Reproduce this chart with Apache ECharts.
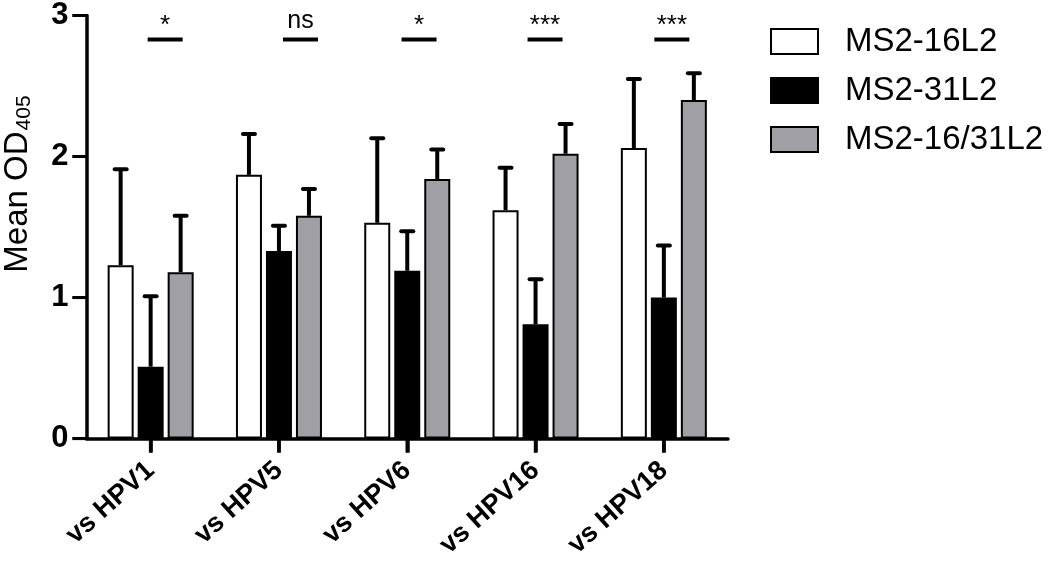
<!DOCTYPE html>
<html><head><meta charset="utf-8">
<script src="https://cdn.jsdelivr.net/npm/echarts@6/dist/echarts.min.js"></script>
<style>html,body{margin:0;padding:0;background:#fff}#c{width:1050px;height:561px}</style>
</head><body><div id="c"></div>
<script>
const categories = ['vs HPV1', 'vs HPV5', 'vs HPV6', 'vs HPV16', 'vs HPV18'];
const seriesNames = ['MS2-16L2', 'MS2-31L2', 'MS2-16/31L2'];
const mean16 = [1.23, 1.87, 1.53, 1.62, 2.06];
const err16 = [0.68, 0.29, 0.60, 0.30, 0.49];
const mean31 = [0.51, 1.33, 1.19, 0.81, 1.00];
const err31 = [0.50, 0.18, 0.28, 0.32, 0.37];
const mean1631 = [1.18, 1.58, 1.84, 2.02, 2.40];
const err1631 = [0.40, 0.19, 0.21, 0.21, 0.19];
const sigLabels = ['*', 'ns', '*', '***', '***'];
const sigLineValue = 2.83;
const yTicks = [0, 1, 2, 3];

const FONT = '"Liberation Sans", Arial, Helvetica, sans-serif';
const colors = ['#ffffff', '#000000', '#a0a0a4'];
const BAR_W = 26, BAR_STEP = 30;
const sigShift = [14.5, 21.5, 11.8, 9.5, 8];
const TICK_LEN = 14;

const chart = echarts.init(document.getElementById('c'), null, {renderer: 'canvas'});

function barSeries(name, data, color) {
  return {
    name: name, type: 'bar', data: data, barWidth: BAR_W, barGap: '15.4%',
    itemStyle: {color: color, borderColor: '#000', borderWidth: 2},
    emphasis: {disabled: true}, animation: false
  };
}
function errSeries(name, means, errs, offset) {
  return {
    name: name, type: 'custom', animation: false, z: 5, clip: false,
    data: means.map((m, i) => [i, m, errs[i]]),
    renderItem: function (params, api) {
      const i = api.value(0), m = api.value(1), e = api.value(2);
      const p0 = api.coord([i, m]);
      const p1 = api.coord([i, m + e]);
      const x = p0[0] + offset;
      return {type: 'group', children: [
        {type: 'line', shape: {x1: x, y1: p0[1], x2: x, y2: p1[1]}, style: {stroke: '#000', lineWidth: 4}},
        {type: 'line', shape: {x1: x - 6, y1: p1[1], x2: x + 6, y2: p1[1]}, style: {stroke: '#000', lineWidth: 4, lineCap: 'round'}}
      ]};
    }
  };
}

const option = {
  backgroundColor: '#fff',
  animation: false,
  grid: {left: 86.5, right: 322, top: 12.5, bottom: 121.5, containLabel: false},
  legend: {
    orient: 'vertical', left: 770, top: 25, padding: 0,
    itemWidth: 47, itemHeight: 25, itemGap: 16, icon: 'rect',
    data: seriesNames,
    textStyle: {fontSize: 33, color: '#000', fontFamily: FONT, padding: [0, 0, 0, 22]}
  },
  xAxis: {
    type: 'category', data: categories,
    axisLine: {show: true, lineStyle: {color: '#000', width: 3.5}},
    axisTick: {show: true, alignWithLabel: true, inside: false, length: TICK_LEN, lineStyle: {color: '#000', width: 3.5, opacity: 1}},
    axisLabel: {rotate: 42, margin: 28, fontSize: 27, lineHeight: 20, fontWeight: 'bold', color: '#000', fontFamily: FONT, interval: 0}
  },
  yAxis: {
    type: 'value', min: 0, max: 3, interval: 1,
    splitLine: {show: false},
    axisLine: {show: true, lineStyle: {color: '#000', width: 3.5}},
    axisTick: {show: true, inside: false, length: TICK_LEN, lineStyle: {color: '#000', width: 3, opacity: 1}},
    axisLabel: {margin: 18, fontSize: 31, lineHeight: 22, fontWeight: 'bold', color: '#000', fontFamily: FONT,
      formatter: v => yTicks.indexOf(v) >= 0 ? String(v) : ''}
  },
  graphic: [{
    type: 'text', x: 18, y: 184, rotation: Math.PI / 2,
    style: {
      text: 'Mean OD{s|405}', fill: '#000', fontSize: 33, fontFamily: FONT,
      align: 'center', verticalAlign: 'middle',
      rich: {s: {fontSize: 21, fontFamily: FONT, fill: '#000', verticalAlign: 'bottom', padding: [0, 0, 0, 1]}}
    }
  }],
  series: [
    barSeries(seriesNames[0], mean16, colors[0]),
    barSeries(seriesNames[1], mean31, colors[1]),
    barSeries(seriesNames[2], mean1631, colors[2]),
    errSeries('err16', mean16, err16, -BAR_STEP),
    errSeries('err31', mean31, err31, 0),
    errSeries('err1631', mean1631, err1631, BAR_STEP),
    {
      name: 'sig', type: 'custom', animation: false, z: 6, clip: false,
      data: sigLabels.map((s, i) => [i, sigLineValue]),
      renderItem: function (params, api) {
        const i = api.value(0);
        const label = sigLabels[i];
        const c = api.coord([i, sigLineValue]);
        const cx = c[0] + sigShift[i];
        const isStar = label.indexOf('*') >= 0;
        return {type: 'group', children: [
          {type: 'line', shape: {x1: cx - 17.5, y1: c[1], x2: cx + 17.5, y2: c[1]}, style: {stroke: '#000', lineWidth: 4}},
          {type: 'text', x: cx, y: isStar ? c[1] - 1 : c[1] - 6,
           style: {text: label, fill: '#000', fontSize: isStar ? 26 : 25, fontFamily: FONT, align: 'center', verticalAlign: 'bottom'}}
        ]};
      }
    },
    {
      name: 'xticks', type: 'custom', animation: false, z: 7, silent: true, clip: false,
      data: categories.map((c, i) => [i, 0]),
      renderItem: function (params, api) {
        const p = api.coord([api.value(0), 0]);
        return {type: 'rect', shape: {x: p[0] - 1.75, y: p[1], width: 3.5, height: TICK_LEN}, style: {fill: '#000'}};
      }
    },
    {
      name: 'yticks', type: 'custom', animation: false, z: 7, silent: true, clip: false,
      data: yTicks.map(v => [0, v]),
      renderItem: function (params, api) {
        const p = api.coord([0, api.value(1)]);
        const left = p[0] - api.size([1, 0])[0] / 2;
        return {type: 'rect', shape: {x: left - TICK_LEN, y: p[1] - 1.5, width: TICK_LEN, height: 3}, style: {fill: '#000'}};
      }
    }
  ]
};
chart.setOption(option);
</script></body></html>
